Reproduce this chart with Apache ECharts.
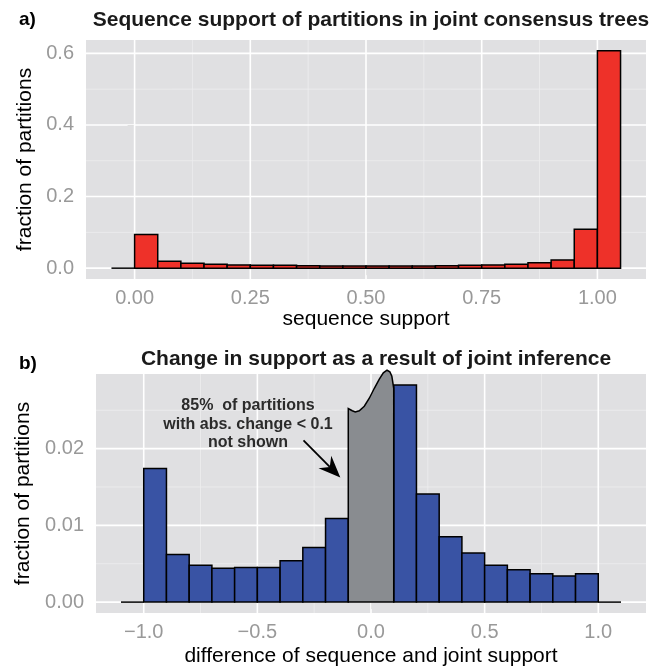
<!DOCTYPE html>
<html><head><meta charset="utf-8">
<script src="https://cdn.jsdelivr.net/npm/echarts@6/dist/echarts.min.js"></script>
<style>html,body{margin:0;padding:0;background:#fff}#c{width:659px;height:669px}</style>
</head><body><div id="c"></div>
<script>
// ---- panel a data ----
const binLowA = [-0.05, 0.00, 0.05, 0.10, 0.15, 0.20, 0.25, 0.30, 0.35, 0.40, 0.45, 0.50, 0.55, 0.60, 0.65, 0.70, 0.75, 0.80, 0.85, 0.90, 0.95, 1.00];
const binWidthA = 0.05;
const fracA = [0, 0.094, 0.019, 0.014, 0.011, 0.009, 0.008, 0.008, 0.007, 0.006, 0.006, 0.006, 0.006, 0.006, 0.007, 0.008, 0.009, 0.011, 0.015, 0.023, 0.109, 0.607];
const xTicksA = [0, 0.25, 0.5, 0.75, 1];
const xTickLabelsA = ['0.00', '0.25', '0.50', '0.75', '1.00'];
const xMinorA = [0.125, 0.375, 0.625, 0.875];
const yTicksA = [0, 0.2, 0.4, 0.6];
const yTickLabelsA = ['0.0', '0.2', '0.4', '0.6'];
const yMinorA = [0.1, 0.3, 0.5];

// ---- panel b data ----
const binLowB = [-1.1, -1.0, -0.9, -0.8, -0.7, -0.6, -0.5, -0.4, -0.3, -0.2, -0.1, 0.0, 0.1, 0.2, 0.3, 0.4, 0.5, 0.6, 0.7, 0.8, 0.9, 1.0];
const binWidthB = 0.1;
const fracB = [0, 0.0174, 0.0062, 0.0048, 0.0044, 0.0045, 0.0045, 0.0054, 0.0071, 0.0109, null, null, 0.0283, 0.0141, 0.0085, 0.0064, 0.0048, 0.0042, 0.0037, 0.0034, 0.0037, 0];
const xTicksB = [-1, -0.5, 0, 0.5, 1];
const xTickLabelsB = ['\u22121.0', '\u22120.5', '0.0', '0.5', '1.0'];
const xMinorB = [-0.75, -0.25, 0.25, 0.75];
const yTicksB = [0, 0.01, 0.02];
const yTickLabelsB = ['0.00', '0.01', '0.02'];
const yMinorB = [0.005, 0.015, 0.025];

// hidden central bin outline (data coordinates)
const hiddenX = [-0.1, -0.1, -0.0824, -0.0692, -0.0516, -0.0295, -0.0075, 0.0146, 0.0366, 0.0542, 0.0705, 0.0829, 0.0917, 0.1, 0.1];
const hiddenY = [0, 0.02522, 0.02493, 0.02477, 0.02493, 0.02552, 0.02656, 0.02786, 0.02904, 0.02988, 0.03021, 0.03001, 0.02943, 0.02786, 0];
const arrowFrom = [-0.297, 0.02108];
const arrowTo = [-0.135, 0.01622];
const noteLines = ['85%  of partitions', 'with abs. change < 0.1', 'not shown'];
const notePos = [-0.541, 0.02317];

const FONT = '"Liberation Sans", Arial, Helvetica, sans-serif';
const chart = echarts.init(document.getElementById('c'), null, {renderer: 'canvas'});

function fmt(ticks, labels) {
  return function (v) {
    const i = ticks.findIndex(t => Math.abs(t - v) < 1e-9);
    return i >= 0 ? labels[i] : '';
  };
}
function gridData(xMaj, xMin, yMaj, yMin) {
  const d = [];
  xMin.forEach(v => d.push([0, v, 0]));
  yMin.forEach(v => d.push([1, v, 0]));
  xMaj.forEach(v => d.push([0, v, 1]));
  yMaj.forEach(v => d.push([1, v, 1]));
  return d;
}
function gridRender(params, api) {
  const cs = params.coordSys;
  const dir = api.value(0), v = api.value(1), major = api.value(2);
  let shape;
  if (dir === 0) { const p = api.coord([v, 0]); shape = {x1: p[0], y1: cs.y, x2: p[0], y2: cs.y + cs.height}; }
  else { const p = api.coord([0, v]); shape = {x1: cs.x, y1: p[1], x2: cs.x + cs.width, y2: p[1]}; }
  return {type: 'line', shape: shape, silent: true,
    style: {stroke: major ? '#ffffff' : '#eeeeef', lineWidth: major ? 1.6 : 0.8}};
}
function barRender(color) {
  return function (params, api) {
    const x0 = api.value(0), x1 = api.value(1), y = api.value(2);
    const p0 = api.coord([x0, y]), p1 = api.coord([x1, 0]);
    if (y === 0) {
      return {type: 'line', shape: {x1: p0[0], y1: p1[1], x2: p1[0], y2: p1[1]}, style: {stroke: '#000', lineWidth: 1.5}};
    }
    return {type: 'rect', shape: {x: p0[0], y: p0[1], width: p1[0] - p0[0], height: p1[1] - p0[1]},
      style: {fill: color, stroke: '#000', lineWidth: 1.5}};
  };
}
function barData(lows, w, vals) {
  const d = [];
  lows.forEach((lo, i) => { if (vals[i] !== null) d.push([lo, lo + w, vals[i]]); });
  return d;
}
const tickStyle = {show: true, length: 7, lineStyle: {color: '#7f7f7f', width: 1}};
const labelStyle = {color: '#999999', fontSize: 20, fontFamily: FONT};
const nameStyle = {color: '#000', fontSize: 21, fontFamily: FONT};

const option = {
  animation: false,
  backgroundColor: '#ffffff',
  title: [
    {text: '{b|a}{r|)}', left: 14, top: 5, textStyle: {rich: {b: {fontSize: 19, fontWeight: 'bold', fontFamily: FONT, color: '#000'}, r: {fontSize: 19, fontFamily: FONT, color: '#000'}}}},
    {text: 'Sequence support of partitions in joint consensus trees', left: 366, top: 5, textAlign: 'center',
      textStyle: {fontSize: 21, fontWeight: 'bold', fontFamily: FONT, color: '#1a1a1a'}},
    {text: '{b|b}{r|)}', left: 14, top: 349, textStyle: {rich: {b: {fontSize: 19, fontWeight: 'bold', fontFamily: FONT, color: '#000'}, r: {fontSize: 19, fontFamily: FONT, color: '#000'}}}},
    {text: 'Change in support as a result of joint inference', left: 371, top: 344, textAlign: 'center',
      textStyle: {fontSize: 21, fontWeight: 'bold', fontFamily: FONT, color: '#1a1a1a'}}
  ],
  grid: [
    {left: 86, right: 13, top: 40, height: 239, show: true, backgroundColor: '#e0e0e2', borderWidth: 0, containLabel: false},
    {left: 96, right: 13, top: 374, height: 239, show: true, backgroundColor: '#e0e0e2', borderWidth: 0, containLabel: false}
  ],
  xAxis: [
    {type: 'value', gridIndex: 0, min: -0.105, max: 1.105, splitLine: {show: false}, axisLine: {show: false},
      axisTick: Object.assign({customValues: xTicksA}, tickStyle),
      axisLabel: Object.assign({customValues: xTicksA, formatter: fmt(xTicksA, xTickLabelsA), margin: 9}, labelStyle),
      name: 'sequence support', nameLocation: 'middle', nameGap: 29, nameTextStyle: nameStyle},
    {type: 'value', gridIndex: 1, min: -1.21, max: 1.21, splitLine: {show: false}, axisLine: {show: false},
      axisTick: Object.assign({customValues: xTicksB}, tickStyle),
      axisLabel: Object.assign({customValues: xTicksB, formatter: fmt(xTicksB, xTickLabelsB), margin: 9}, labelStyle),
      name: 'difference of sequence and joint support', nameLocation: 'middle', nameGap: 33, nameTextStyle: nameStyle}
  ],
  yAxis: [
    {type: 'value', gridIndex: 0, min: -0.0303, max: 0.6373, splitLine: {show: false}, axisLine: {show: false},
      axisTick: Object.assign({customValues: yTicksA}, tickStyle),
      axisLabel: Object.assign({customValues: yTicksA, formatter: fmt(yTicksA, yTickLabelsA), margin: 12}, labelStyle),
      name: 'fraction of partitions', nameLocation: 'middle', nameGap: 50, nameTextStyle: nameStyle},
    {type: 'value', gridIndex: 1, min: -0.00142, max: 0.02972, splitLine: {show: false}, axisLine: {show: false},
      axisTick: Object.assign({customValues: yTicksB}, tickStyle),
      axisLabel: Object.assign({customValues: yTicksB, formatter: fmt(yTicksB, yTickLabelsB), margin: 12}, labelStyle),
      name: 'fraction of partitions', nameLocation: 'middle', nameGap: 60, nameTextStyle: nameStyle}
  ],
  series: [
    {type: 'custom', xAxisIndex: 0, yAxisIndex: 0, z: 1, silent: true, renderItem: gridRender,
      data: gridData(xTicksA, xMinorA, yTicksA, yMinorA)},
    {type: 'custom', xAxisIndex: 1, yAxisIndex: 1, z: 1, silent: true, renderItem: gridRender,
      data: gridData(xTicksB, xMinorB, yTicksB, yMinorB)},
    {type: 'custom', xAxisIndex: 0, yAxisIndex: 0, z: 3, renderItem: barRender('#ee3129'),
      data: barData(binLowA, binWidthA, fracA)},
    {type: 'custom', xAxisIndex: 1, yAxisIndex: 1, z: 3, renderItem: barRender('#3953a4'),
      data: barData(binLowB, binWidthB, fracB)},
    {type: 'custom', xAxisIndex: 1, yAxisIndex: 1, z: 3, clip: false, data: [[0, 0]],
      renderItem: function (params, api) {
        const pts = hiddenX.map((x, i) => api.coord([x, hiddenY[i]]));
        return {type: 'polygon', shape: {points: pts}, style: {fill: '#898c90', stroke: '#000', lineWidth: 1.5}};
      }},
    {type: 'custom', xAxisIndex: 1, yAxisIndex: 1, z: 4, clip: false, data: [[arrowFrom[0], arrowFrom[1], arrowTo[0], arrowTo[1]]],
      renderItem: function (params, api) {
        const a = api.coord([api.value(0), api.value(1)]);
        const b = api.coord([api.value(2), api.value(3)]);
        const dx = b[0] - a[0], dy = b[1] - a[1];
        const L = Math.sqrt(dx * dx + dy * dy), ux = dx / L, uy = dy / L;
        const nx = -uy, ny = ux;
        const len = 22, half = 9, notch = 15;
        const back = [b[0] - ux * len, b[1] - uy * len];
        const mid = [b[0] - ux * notch, b[1] - uy * notch];
        return {type: 'group', children: [
          {type: 'line', shape: {x1: a[0], y1: a[1], x2: mid[0], y2: mid[1]}, style: {stroke: '#000', lineWidth: 1.8}},
          {type: 'polygon', shape: {points: [b, [back[0] + nx * half, back[1] + ny * half], mid, [back[0] - nx * half, back[1] - ny * half]]},
            style: {fill: '#000', stroke: null}}
        ]};
      }},
    {type: 'custom', xAxisIndex: 1, yAxisIndex: 1, z: 4, clip: false, data: [[notePos[0], notePos[1]]],
      renderItem: function (params, api) {
        const p = api.coord([api.value(0), api.value(1)]);
        return {type: 'text', x: p[0], y: p[1],
          style: {text: noteLines.join('\n'), fill: '#2b2b2b', fontSize: 16, fontWeight: 'bold', fontFamily: FONT,
            align: 'center', verticalAlign: 'middle', lineHeight: 18.5}};
      }}
  ]
};
chart.setOption(option);
</script>
</body></html>
